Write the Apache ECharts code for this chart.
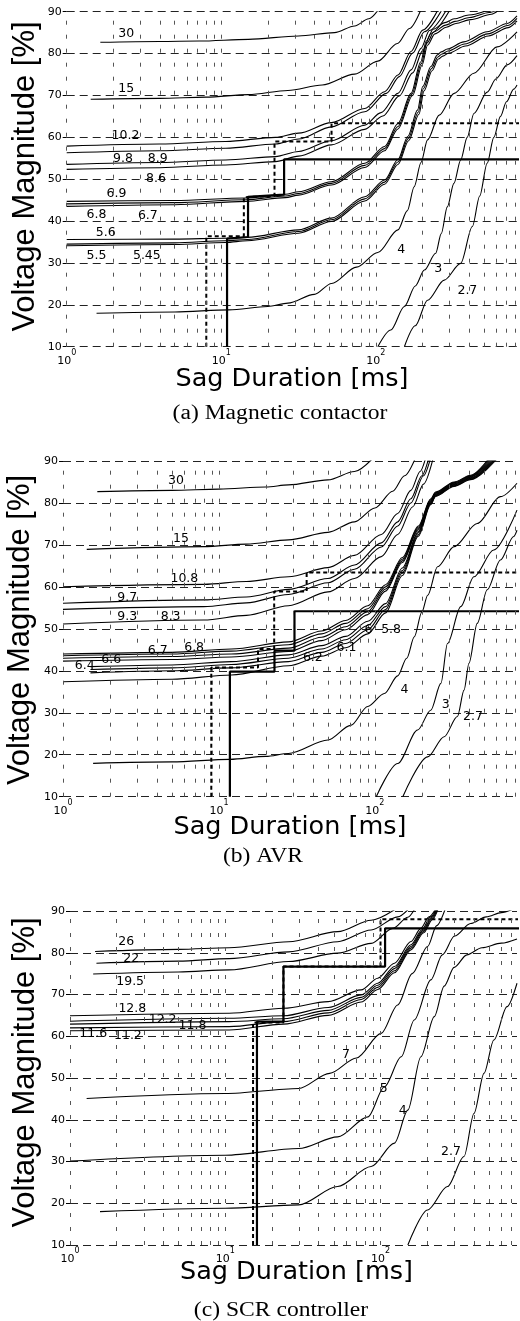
<!DOCTYPE html>
<html><head><meta charset="utf-8">
<script src="https://cdn.jsdelivr.net/npm/echarts@6/dist/echarts.min.js"></script>
<style>html,body{margin:0;padding:0;background:#fff}#c{width:520px;height:1321px}</style>
</head><body><div id="c"></div>
<script>
// ---------- shared ticks ----------
const X_GRID = [1,2,3,4,5,6,7,8,9,10,20,30,40,50,60,70,80,90,100,200,300,400,500,600,700,800];
const Y_TICKS = [10,20,30,40,50,60,70,80,90];
const CAPTIONS = ["(a) Magnetic contactor", "(b) AVR", "(c) SCR controller"];
const X_TITLE = "Sag Duration [ms]";
const Y_TITLE = "Voltage Magnitude [%]";

// ---------- panel (a) Magnetic contactor ----------
const A_30 = [[1.65,82.7],[4,82.9],[7.2,83.0],[15,83.4],[31.6,84.2],[54,85.0],[73,86.6],[90,88.3],[104,90.5]];
const A_15 = [[1.43,69.1],[4,69.3],[8,69.6],[15,70.2],[27,71.2],[45,72.5],[73,75.1],[103,78.2],[138,82.4],[165,86.0],[196,90.5]];
const A_102 = [[1,57.9],[4,58.4],[10.7,59.0],[22.4,60.0],[31.6,61.0],[51.6,63.5],[84.7,66.9],[114,70.9],[139,74.9],[169,80.5],[201,85.6],[251,90.3]];
const A_98 = [[1,56.3],[4,56.8],[10.7,57.4],[22.4,58.4],[31.6,59.6],[51.6,62.5],[84.7,66.1],[117,70.5],[142,74.5],[173,80.1],[206,85.2],[266,90.3]];
const A_89 = [[1,53.55],[4,54.0],[10.7,54.6],[22.4,55.4],[31.6,56.6],[51.6,59.2],[84.7,62.9],[108,65.9],[139,70.5],[169,76.1],[196,81.25],[222,85.5],[285,90.3]];
const A_86 = [[1,52.35],[4,52.75],[10.7,53.4],[22.4,54.2],[31.6,55.5],[51.6,58.2],[84.7,61.9],[111,65.1],[142,69.9],[173,75.4],[201,80.7],[227,84.8],[300,90.3]];
const A_69 = [[1,44.7],[5,44.9],[14.4,45.5],[26,46.4],[31.6,47.0],[51.6,49.4],[84.7,53.8],[114,57.8],[139,63.3],[169,70.5],[195,78.0],[212,83.0],[235,85.8],[280,87.4],[321,88.3],[400,89.2],[525,90.3]];
const A_68 = [[1,44.1],[5,44.4],[14.4,45.1],[26,46.0],[31.6,46.6],[51.6,49.0],[84.7,53.3],[114,57.3],[139,62.6],[171,70.3],[197,77.6],[214,82.5],[238,85.2],[283,86.8],[325,87.7],[405,88.6],[540,89.8],[600,90.3]];
const A_67 = [[1,43.5],[5,43.9],[14.4,44.7],[26,45.6],[31.6,46.2],[51.6,48.6],[84.7,52.8],[114,56.8],[139,62.0],[173,70.0],[199,77.2],[216,82.0],[241,84.7],[286,86.3],[330,87.2],[410,88.1],[560,89.4],[620,90.3]];
const A_56 = [[1,35.6],[5,35.7],[10.7,35.9],[14.7,36.1],[31.6,37.9],[51.6,40.7],[84.7,45.8],[114,49.8],[139,54.7],[161,60.2],[186,66.5],[201,72.1],[227,76.9],[250,79.7],[265,80.4],[290,81.1],[371,82.8],[525,85.2],[707,87.2],[819,89.0]];
const A_55 = [[1,34.5],[5,34.8],[10.7,35.3],[14.7,35.6],[31.6,37.5],[51.6,40.3],[84.7,45.3],[114,49.3],[139,54.1],[162,59.7],[188,66.0],[203,71.6],[229,76.4],[252,79.2],[268,79.9],[293,80.6],[375,82.3],[530,84.7],[715,86.7],[819,88.4]];
const A_545 = [[1,34.1],[5,34.4],[10.7,34.9],[14.7,35.3],[31.6,37.1],[51.6,39.9],[84.7,44.8],[114,48.8],[139,53.5],[163,59.2],[190,65.5],[205,71.1],[231,75.9],[254,78.7],[271,79.4],[296,80.1],[380,81.8],[535,84.2],[720,86.2],[819,87.8]];
const A_4 = [[1.56,18.0],[5,18.3],[11.2,18.8],[20,19.6],[27,20.4],[40,22.5],[51.7,25.1],[75,29.0],[103,32.5],[139,37.9],[160,42.5],[177,48.2],[196,54.0],[216,59.4],[257,65.3],[321,70.5],[431,75.3],[609,81.6],[819,85.2]];
const A_3 = [[103,10],[125,14],[153,19.6],[180,24.5],[206,28.3],[244,32.3],[265,37.0],[290,43.4],[320,49.0],[354,54.6],[390,60.0],[431,65.7],[525,70.8],[600,74.0],[707,77.3],[819,79.5]];
const A_27 = [[153,10],[180,15],[216,21.1],[277,25.9],[354,29.9],[421,38.7],[470,46.0],[525,53.8],[580,60.0],[640,65.0],[700,68.5],[780,71.5],[819,72.5]];
const A_SOLID = [[10.9,10],[10.9,35.8],[14.9,36.2],[14.9,45.8],[25.5,46.3],[25.5,54.75],[1000,54.75]];
const A_DASH = [[8.0,10],[8.0,36.4],[14.0,36.4],[14.0,45.7],[22.1,46.0],[22.1,59.0],[51.7,59.0],[51.7,63.35],[1000,63.35]];
const A_LABELS = [["30",2.43,84.8],["15",2.43,71.5],["10.2",2.4,60.3],["9.8",2.31,55.0],["8.9",3.88,55.0],["8.6",3.78,50.2],["6.9",2.1,46.6],["6.8",1.56,41.6],["6.7",3.35,41.2],["5.6",1.79,37.3],["5.5",1.56,31.65],["5.45",3.3,31.65],["4",146,33.1],["3",253,28.5],["2.7",391,23.4]];

// ---------- panel (b) AVR ----------
const B_30 = [[1.66,82.7],[5,83.0],[10,83.3],[20,83.8],[27.9,84.3],[50,85.5],[74,87.5],[95,90.3]];
const B_15 = [[1.42,68.95],[8,69.6],[15,70.2],[27.9,71.2],[50,73.0],[74,75.5],[100,78.8],[130,82.8],[155,86.5],[180,90.3]];
const B_108 = [[1,60.05],[8,60.6],[15,61.3],[27.9,62.4],[50,64.6],[74,67.5],[110,72.5],[140,77.5],[170,83.0],[195,87.5],[210,90.3]];
const B_97 = [[1,56.1],[8,56.9],[15,57.6],[27.9,59.4],[50,62.0],[74,65.2],[110,70.5],[140,75.5],[170,81.0],[200,86.5],[220,90.3]];
const B_93 = [[1,54.65],[8,55.3],[15,56.2],[27.9,58.2],[50,61.0],[74,64.2],[110,69.5],[140,74.5],[170,80.0],[205,86.5],[226,90.3]];
const B_83 = [[1,51.15],[8,52.1],[15,53.2],[27.9,55.5],[50,58.8],[74,62.0],[110,67.2],[140,72.5],[175,79.1],[205,84.5],[235,90.3]];
const B_68 = [[1,44.0],[5,44.4],[12,45.2],[27.9,46.9],[45.5,49.5],[65,52.0],[90,55.5],[117,60.5],[150,67.0],[190,74.5],[228,81.0],[245,82.6],[322,85.0],[411,86.6],[530,90.3]];
const B_67 = [[1,43.6],[5,44.0],[12,44.7],[27.9,46.2],[45.5,48.8],[65,51.3],[90,54.8],[117,60.0],[150,66.6],[190,74.2],[228,80.8],[245,82.45],[322,84.85],[411,86.45],[540,90.3]];
const B_66 = [[1,43.0],[5,43.4],[12,44.0],[27.9,45.4],[45.5,48.0],[65,50.5],[90,54.1],[117,59.5],[150,66.2],[190,73.9],[228,80.6],[245,82.3],[322,84.7],[411,86.3],[550,90.3]];
const B_64 = [[1,42.3],[5,42.7],[12,43.3],[27.9,44.6],[45.5,47.2],[65,49.8],[90,53.4],[117,59.0],[150,65.8],[190,73.6],[228,80.4],[245,82.15],[322,84.55],[411,86.15],[560,90.3]];
const B_62 = [[1.5,41.0],[5,41.4],[12,42.2],[27.9,43.8],[45.5,46.0],[65,48.2],[90,51.8],[117,56.0],[150,64.5],[190,73.2],[228,80.2],[245,82.0],[322,84.4],[411,86.0],[570,90.3]];
const B_61 = [[1.5,40.3],[5,40.7],[12,41.5],[27.9,43.0],[45.5,45.2],[65,47.4],[90,50.8],[117,55.3],[150,63.9],[190,72.9],[228,80.0],[245,81.85],[322,84.25],[411,85.85],[580,90.3]];
const B_60 = [[1.5,39.5],[5,40.0],[12,40.7],[27.9,42.2],[45.5,44.4],[65,46.5],[90,49.8],[117,54.6],[150,63.3],[190,72.5],[228,79.8],[245,81.7],[322,84.1],[411,85.7],[590,90.3]];
const B_58 = [[1,37.4],[5,38.0],[12,39.0],[27.9,41.2],[45.5,43.5],[65,45.5],[90,48.8],[117,53.8],[150,62.7],[190,72.1],[228,79.6],[245,81.55],[322,83.95],[411,85.55],[600,90.3]];
const B_4 = [[1.56,17.95],[5,18.3],[11.75,18.9],[20,19.6],[27.9,20.3],[50,23.5],[70,27.0],[90,31.5],[115,34.6],[140,38.8],[160,43.0],[179,48.1],[200,54.0],[218,58.0],[252,64.8],[322,69.6],[453,75.1],[638,81.5],[815,84.7]];
const B_3 = [[102,10],[140,17.9],[188,25.9],[228,30.6],[265,37.0],[292,46.5],[355,55.3],[431,62.4],[578,68.8],[815,78.3]];
const B_27 = [[151,10],[218,19.5],[278,24.3],[338,29.1],[373,35.4],[401,41.8],[453,51.3],[525,59.3],[638,66.4],[776,72.0],[815,73.5]];
const B_SOLID = [[11.75,10],[11.75,39.8],[22.7,39.8],[22.7,44.8],[30.5,44.8],[30.5,54.2],[1000,54.2]];
const B_DASH = [[8.93,10],[8.93,40.8],[17.8,40.8],[17.8,45.2],[22.6,45.2],[22.6,58.9],[36.5,58.9],[36.5,63.4],[1000,63.4]];
const B_LABELS = [["30",5.3,85.2],["15",5.7,71.4],["10.8",6.0,62.0],["9.7",2.58,57.4],["9.3",2.58,53.0],["8.3",4.9,53.0],["6.8",6.93,45.6],["6.7",4.05,44.9],["6.6",2.04,42.6],["6.4",1.38,41.2],["6.2",40,43.0],["6.1",65.8,45.6],["6",91,49.7],["5.8",127,49.7],["4",155,35.6],["3",285,31.85],["2.7",425,29.1]];

// ---------- panel (c) SCR controller ----------
const C_26 = [[1.45,80.3],[5,80.8],[10.6,81.2],[25.6,82.65],[53,85.05],[87,87.8],[123,90.3]];
const C_22 = [[1.48,77.5],[5,78.0],[10.6,78.6],[25.6,80.2],[53,82.65],[87,85.45],[129,88.6],[150,90.3]];
const C_195 = [[1.41,74.9],[5,75.4],[10.6,75.9],[25.6,77.9],[53,79.9],[87,82.25],[120,85.85],[150,88.5],[165,90.3]];
const C_128 = [[1,64.9],[10.6,65.5],[23.7,66.7],[46,68.3],[75,71.1],[96,73.9],[123,77.5],[157,82.7],[182,85.85],[205,88.6],[225,90.3]];
const C_122 = [[1,63.6],[10.6,64.3],[23.7,64.9],[46,66.9],[75,69.9],[96,72.7],[123,76.7],[157,81.9],[185,85.5],[210,88.6],[228,90.3]];
const C_118 = [[1,62.9],[10.6,63.5],[23.7,64.2],[46,66.2],[75,69.3],[96,72.2],[123,76.2],[157,81.5],[187,85.3],[212,88.4],[230,90.3]];
const C_116 = [[1,62.0],[10.6,62.3],[23.7,63.5],[46,65.6],[75,68.8],[96,71.7],[123,75.7],[157,81.1],[188,85.0],[214,88.2],[232,90.3]];
const C_112 = [[1,61.3],[10.6,61.5],[23.7,62.9],[46,65.0],[75,68.2],[96,71.2],[123,75.2],[157,80.7],[190,84.8],[216,88.0],[234,90.3]];
const C_7 = [[1.28,45.1],[10,46.3],[29.7,47.5],[47,51.1],[70,54.8],[101,60.7],[129,67.5],[160,75.0],[201,81.5],[230,86.5],[260,90.3]];
const C_5 = [[1,30.1],[10,31.5],[29.7,33.1],[53,35.9],[83,40.7],[106,47.9],[136,55.1],[165,63.9],[211,73.5],[250,79.5],[300,84.0],[380,87.0],[480,88.6],[600,89.6],[700,90.3]];
const C_4 = [[1.56,18.0],[10,18.8],[29.7,19.6],[53,24.0],[87,28.8],[123,34.4],[150,42.3],[182,55.1],[222,64.7],[257,72.0],[298,76.5],[360,79.5],[450,81.2],[600,82.3],[757,83.3]];
const C_27 = [[150,10],[201,18.4],[270,24.0],[345,31.2],[400,41.5],[464,51.1],[537,59.1],[653,67.1],[757,72.7]];
const C_SOLID = [[16,10],[16,63.5],[23.7,63.5],[23.7,76.7],[107,76.7],[107,85.85],[1000,85.85]];
const C_DASH = [[15.1,10],[15.1,63.3],[23.7,63.3],[23.7,76.7],[100,76.7],[100,88.0],[1000,88.0]];
const C_LABELS = [["26",2.3,82.6],["22",2.48,78.5],["19.5",2.44,73.1],["12.8",2.52,66.5],["12.2",3.95,63.9],["11.8",6.15,62.5],["11.6",1.41,60.7],["11.2",2.36,60.06],["7",60,55.5],["5",105,47.5],["4",139,42.2],["2.7",284,32.4]];

// ---------- layout ----------
const PANELS = [
  {grid:{left:66.7, top:11.7, width:453.3, height:335}, xMax:819,
   curves:[A_30,A_15,A_102,A_98,A_89,A_86,A_69,A_68,A_67,A_56,A_55,A_545,A_4,A_3,A_27],
   solid:A_SOLID, dash:A_DASH, labels:A_LABELS,
   yT:[25,176.5], xT:[292,379], cap:[280,413.5]},
  {grid:{left:63, top:461, width:457, height:335.7}, xMax:815,
   curves:[B_30,B_15,B_108,B_97,B_93,B_83,B_68,B_67,B_66,B_64,B_62,B_61,B_60,B_58,B_4,B_3,B_27],
   solid:B_SOLID, dash:B_DASH, labels:B_LABELS,
   yT:[20,630], xT:[290,827.5], cap:[263,857]},
  {grid:{left:70, top:911, width:450, height:334}, xMax:757,
   curves:[C_26,C_22,C_195,C_128,C_122,C_118,C_116,C_112,C_7,C_5,C_4,C_27],
   solid:C_SOLID, dash:C_DASH, labels:C_LABELS,
   yT:[25,1072.5], xT:[296.5,1272.5], cap:[281,1311]}
];

const SANS = '"DejaVu Sans"';
const grids = [], xAxes = [], yAxes = [], series = [], graphics = [];
PANELS.forEach((p, i) => {
  grids.push(Object.assign({containLabel:false}, p.grid));
  xAxes.push({
    type:'log', logBase:10, min:1, max:p.xMax, gridIndex:i,
    axisLine:{show:false}, axisTick:{show:false}, splitLine:{show:false},
    axisLabel:{
      margin:2, color:'#000',
      formatter:function(v){const e=Math.log10(v);const r=Math.round(e);if(Math.abs(e-r)>1e-6)return '';return '{b|10}{s|'+r+'}';},
      rich:{b:{fontFamily:SANS, fontSize:11, lineHeight:18, verticalAlign:'bottom', color:'#000'},
            s:{fontFamily:SANS, fontSize:8, lineHeight:9, verticalAlign:'top', color:'#000'}}
    }
  });
  yAxes.push({
    type:'value', min:Y_TICKS[0], max:Y_TICKS[Y_TICKS.length-1], interval:10, gridIndex:i,
    axisLine:{show:false},
    axisTick:{show:true, length:4, lineStyle:{color:'#000', width:1}},
    axisLabel:{fontFamily:SANS, fontSize:11, color:'#000', margin:5},
    splitLine:{show:true, lineStyle:{type:[8,5], color:'#222', width:1}}
  });
  series.push({
    type:'line', xAxisIndex:i, yAxisIndex:i, data:[], silent:true, animation:false,
    markLine:{silent:true, animation:false, symbol:['none','none'], label:{show:false},
      lineStyle:{type:[4,10], color:'#555', width:1},
      data:X_GRID.filter(v=>v<=p.xMax).map(v=>({xAxis:v}))}
  });
  p.curves.forEach(d => series.push({
    type:'line', xAxisIndex:i, yAxisIndex:i, data:d, showSymbol:false, symbol:'none',
    smooth:0.3, smoothMonotone:'x', silent:true, animation:false, clip:true,
    lineStyle:{color:'#000', width:1.1}, z:3
  }));
  series.push({type:'line', xAxisIndex:i, yAxisIndex:i, data:p.dash, symbol:'none', silent:true,
    animation:false, clip:true, lineStyle:{color:'#000', width:2, type:[4,3]}, z:4});
  series.push({type:'line', xAxisIndex:i, yAxisIndex:i, data:p.solid, symbol:'none', silent:true,
    animation:false, clip:true, lineStyle:{color:'#000', width:2.2}, z:4});
  series.push({type:'scatter', xAxisIndex:i, yAxisIndex:i, silent:true, animation:false,
    symbolSize:0, itemStyle:{color:'#000', opacity:1}, z:6,
    data:p.labels.map(l=>({name:l[0], value:[l[1], l[2]]})),
    label:{show:true, position:'inside', formatter:'{b}', fontFamily:SANS, fontSize:12.5,
      color:'#000', opacity:1, textBorderWidth:0, fontWeight:'normal'}});
  graphics.push({type:'text', x:p.yT[0], y:p.yT[1], rotation:Math.PI/2,
    style:{text:Y_TITLE, font:'31px "Liberation Sans"', fill:'#000', textAlign:'center', textVerticalAlign:'middle', align:'center', verticalAlign:'middle'}});
  graphics.push({type:'text', x:p.xT[0], y:p.xT[1],
    style:{text:X_TITLE, font:'25.5px "DejaVu Sans"', fill:'#000', textAlign:'center', textVerticalAlign:'middle', align:'center', verticalAlign:'middle'}});
  graphics.push({type:'text', x:p.cap[0], y:p.cap[1], scaleX:1.18,
    style:{text:CAPTIONS[i], font:'20px "Liberation Serif"', fill:'#000', textAlign:'center', textVerticalAlign:'middle', align:'center', verticalAlign:'middle'}});
});

const chart = echarts.init(document.getElementById('c'), null, {renderer:'canvas'});
chart.setOption({
  animation:false, backgroundColor:'#fff',
  grid:grids, xAxis:xAxes, yAxis:yAxes, series:series, graphic:graphics
});
</script></body></html>
